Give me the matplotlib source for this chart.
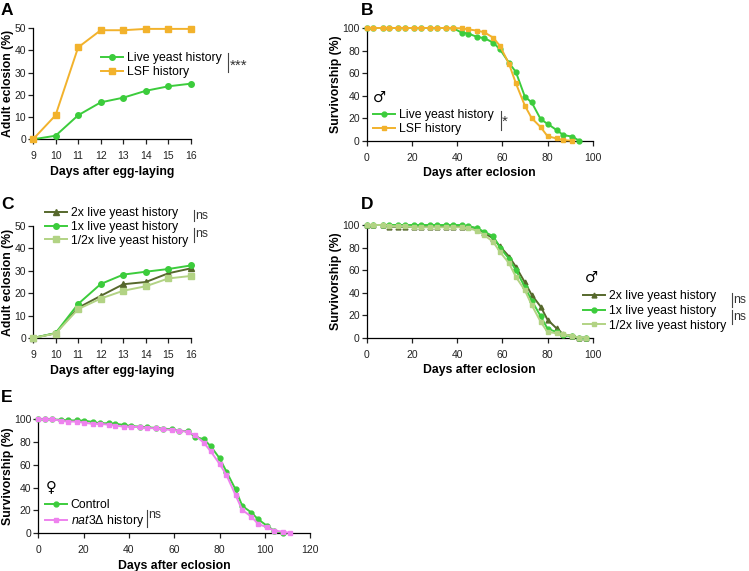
import numpy as np
import matplotlib
matplotlib.use('Agg')
import matplotlib.pyplot as plt
from matplotlib.lines import Line2D

plt.rcParams['font.family'] = ['Liberation Sans', 'DejaVu Sans']
plt.rcParams['mathtext.fontset'] = 'custom'
plt.rcParams['mathtext.it'] = 'Liberation Sans:italic'
plt.rcParams['mathtext.rm'] = 'Liberation Sans'

# ---- data ----
# A: eclosion, live yeast vs LSF
days_a = [9, 10, 11, 12, 13, 14, 15, 16]
live_a = [0, 1.6, 10.8, 16.6, 18.7, 21.8, 23.8, 25.0]
lsf_a = [0, 10.8, 41.3, 49.0, 49.0, 49.6, 49.6, 49.6]

# B: male survivorship, live yeast vs LSF
days_b = [0, 3, 7, 10, 14, 17, 21, 24, 28, 31, 35, 38, 42, 45, 49, 52, 56, 59,
          63, 66, 70, 73, 77, 80, 84, 87, 91, 94]
live_b = [100, 100, 100, 100, 100, 100, 100, 100, 100, 100, 100, 100, 96, 95,
          92, 91, 87, 81, 69, 61, 39, 34, 19, 15, 9.5, 5, 3.6, 0]
lsf_b = [100, 100, 100, 100, 100, 100, 100, 100, 100, 100, 100, 100, 99.7, 98.8,
         97.6, 96.2, 91.4, 84, 68, 51, 31, 20, 12, 4, 2, 0.5, 0, np.nan]

# C: eclosion, yeast dose
days_c = [9, 10, 11, 12, 13, 14, 15, 16]
x2_c = [0, 2.1, 13.5, 18.8, 24.0, 25.0, 28.9, 31.1]
x1_c = [0, 2.2, 15.2, 24.1, 28.3, 29.6, 30.8, 32.4]
xh_c = [0, 2.0, 12.9, 17.6, 21.1, 23.1, 26.6, 27.7]

# D: male survivorship, yeast dose
days_d = [0, 3, 7, 10, 14, 17, 21, 24, 28, 31, 35, 38, 42, 45, 49, 52, 56, 59,
          63, 66, 70, 73, 77, 80, 84, 87, 91, 94, 97]
x2_d = [100, 100, 100, 98.5, 98.5, 98.5, 98.5, 98.5, 98.5, 98.5, 98.5, 98.5,
        98.5, 98.5, 97, 93, 88, 81, 72, 63, 49, 38, 27.5, 16, 8.3, 3, 1.5, 0, 0]
x1_d = [100, 100, 100, 100, 100, 100, 100, 100, 100, 100, 100, 100, 100, 99,
        97, 94, 90, 80, 70, 60, 45, 33, 19, 8, 5, 2, 1.5, 0, 0]
xh_d = [100, 100, 100, 99, 99, 99, 98, 98, 98, 98, 98, 98, 98, 97, 95, 91,
        85, 76, 66, 54, 42, 29, 14, 5, 4, 3, 1.5, 0, 0]

# E: female survivorship, control vs nat3 delta
days_e = [0, 3, 6, 10, 13, 17, 20, 24, 27, 31, 34, 38, 41, 45, 48, 52, 55, 59,
          62, 66, 69, 73, 76, 80, 83, 87, 90, 94, 97, 101, 104, 108, 111]
ctrl_e = [100, 100, 100, 99.5, 99, 99, 98.8, 97.7, 96.5, 96.5, 96, 95, 94,
          93.5, 93, 92.4, 91.8, 91.2, 90, 89.4, 84.8, 82.4, 76.5, 65.7, 54,
          38.4, 23.8, 18, 12, 6.2, 2, 0, np.nan]
nat3_e = [100, 100, 100, 98.8, 98, 98, 97, 96, 96, 95.3, 94.4, 93.5, 93.5, 93,
          92.4, 92, 91.2, 90.6, 90, 88.9, 86.2, 79.5, 72, 60.7, 51, 33.4, 20.2,
          14.4, 7.9, 5, 2, 1.2, 0]

GREEN = '#3ccc3c'
ORANGE = '#f2b22c'
OLIVE = '#56682c'
LIGHT = '#b2d384'
PINK = '#ee82ee'

W, H = 749, 571
fig = plt.figure(figsize=(W / 100, H / 100), dpi=100)

LEG_FS = 8.8
LAB_FS = 8.8
TICK_FS = 7.5


def add_ax(l, t, r, b):
    ax = fig.add_axes([l / W, 1 - b / H, (r - l) / W, (b - t) / H])
    for s in ['top', 'right']:
        ax.spines[s].set_visible(False)
    for s in ['left', 'bottom']:
        ax.spines[s].set_linewidth(0.9)
    ax.tick_params(labelsize=TICK_FS, length=3.5, width=0.9, colors='#222222')
    ax.tick_params(axis='x', pad=5)
    ax.tick_params(axis='y', pad=1.5)
    return ax


def line(ax, x, y, color, marker, ms=4, label=None):
    ax.plot(x, y, color=color, marker=marker, ms=ms, lw=1.4, label=label,
            clip_on=False, zorder=3)


def fx(px):
    return px / W


def fy(py):
    return 1 - py / H


def sig_bar(x, y0, y1, txt, ty, fs=LEG_FS):
    fig.add_artist(Line2D([fx(x), fx(x)], [fy(y0), fy(y1)], color='#444444', lw=0.8))
    fig.text(fx(x + 1.5), fy(ty), txt, fontsize=fs, va='center', ha='left', color='#333333')


def legend(ax, x, y, spacing):
    leg = ax.legend(loc='center left', bbox_to_anchor=(fx(x), fy(y)),
                    bbox_transform=fig.transFigure, frameon=False, fontsize=LEG_FS,
                    handlelength=1.8, handletextpad=0.3, borderpad=0,
                    borderaxespad=0, labelspacing=spacing)
    return leg


def labels(ax, xl, yl, ypad=0.5):
    ax.set_xlabel(xl, fontsize=LAB_FS, fontweight='bold', labelpad=3.5)
    ax.set_ylabel(yl, fontsize=LAB_FS, fontweight='bold', labelpad=ypad)


# ---- A ----
axA = add_ax(33, 28, 191, 139.3)
line(axA, days_a, live_a, GREEN, 'o', label='Live yeast history')
line(axA, days_a, lsf_a, ORANGE, 's', label='LSF history')
axA.set_xlim(9, 16)
axA.set_ylim(0, 50)
axA.set_xticks(days_a)
axA.set_yticks([0, 10, 20, 30, 40, 50])
labels(axA, 'Days after egg-laying', 'Adult eclosion (%)')
legend(axA, 101.5, 65, 0.16)
sig_bar(228, 53, 72, '***', 65.5, fs=11)

# ---- B ----
axB = add_ax(366.7, 28, 592.7, 140.7)
line(axB, days_b, live_b, GREEN, 'o', ms=3.5, label='Live yeast history')
line(axB, days_b, lsf_b, ORANGE, 's', ms=3.5, label='LSF history')
axB.set_xlim(0, 100)
axB.set_ylim(0, 100)
axB.set_xticks(range(0, 101, 20))
axB.set_yticks(range(0, 101, 20))
labels(axB, 'Days after eclosion', 'Survivorship (%)', 0)
legend(axB, 373, 122, 0.2)
fig.text(fx(373), fy(97), '\u2642', fontsize=10.5, va='center', ha='left',
         family=['DejaVu Sans'])
sig_bar(500.7, 111, 130, '*', 122, fs=11)

# ---- C ----
axC = add_ax(33, 226, 191, 338)
line(axC, days_c, x2_c, OLIVE, '^', label='2x live yeast history')
line(axC, days_c, x1_c, GREEN, 'o', label='1x live yeast history')
line(axC, days_c, xh_c, LIGHT, 's', label='1/2x live yeast history')
axC.set_xlim(9, 16)
axC.set_ylim(0, 50)
axC.set_xticks(days_c)
axC.set_yticks([0, 10, 20, 30, 40, 50])
labels(axC, 'Days after egg-laying', 'Adult eclosion (%)')
legend(axC, 45, 226.8, 0.15)
sig_bar(194, 210, 221, 'ns', 216)
sig_bar(194, 228, 242, 'ns', 234)

# ---- D ----
axD = add_ax(366.7, 225, 592.7, 337.7)
line(axD, days_d, x2_d, OLIVE, '^', ms=3.5, label='2x live yeast history')
line(axD, days_d, x1_d, GREEN, 'o', ms=3.5, label='1x live yeast history')
line(axD, days_d, xh_d, LIGHT, 's', ms=3.5, label='1/2x live yeast history')
axD.set_xlim(0, 100)
axD.set_ylim(0, 100)
axD.set_xticks(range(0, 101, 20))
axD.set_yticks(range(0, 101, 20))
labels(axD, 'Days after eclosion', 'Survivorship (%)', 0)
legend(axD, 583, 311, 0.22)
fig.text(fx(585), fy(277), '\u2642', fontsize=10.5, va='center', ha='left',
         family=['DejaVu Sans'])
sig_bar(731.7, 293, 307, 'ns', 300)
sig_bar(731.7, 310, 324, 'ns', 317)

# ---- E ----
axE = add_ax(38.3, 419.3, 310.3, 533)
line(axE, days_e, ctrl_e, GREEN, 'o', ms=3.5, label='Control')
line(axE, days_e, nat3_e, PINK, 's', ms=3.5, label='$\\it{nat3}$\u0394 history')
axE.set_xlim(0, 120)
axE.set_ylim(0, 100)
axE.set_xticks(range(0, 121, 20))
axE.set_yticks(range(0, 101, 20))
labels(axE, 'Days after eclosion', 'Survivorship (%)', 0)
legend(axE, 45, 514, 0.15)
fig.text(fx(46), fy(487), '\u2640', fontsize=10.5, va='center', ha='left',
         family=['DejaVu Sans'])
sig_bar(146.7, 510, 527, 'ns', 515)

# panel letters
for lab, x, y in [('A', 1, 3), ('B', 361, 3), ('C', 1, 197), ('D', 361, 197), ('E', 1, 390)]:
    fig.text(fx(x), fy(y), lab, fontsize=12.5, fontweight='bold', va='top', ha='left')

plt.savefig('out.png', dpi=100)
